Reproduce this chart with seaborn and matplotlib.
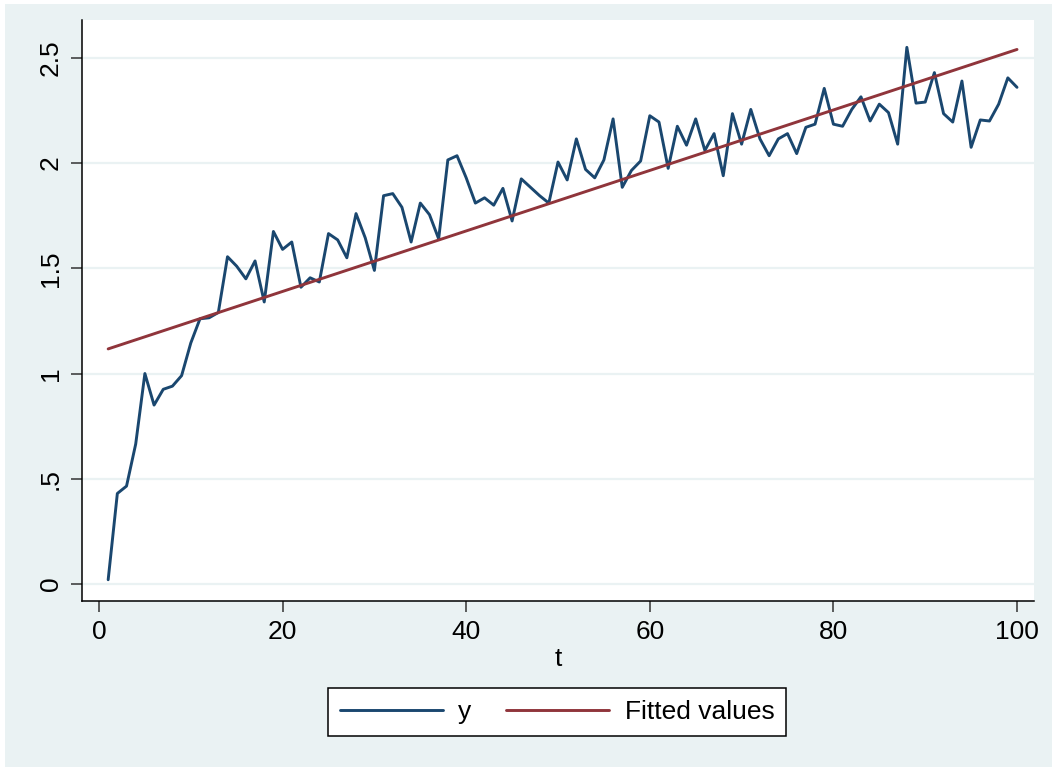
# Stata-style line plot of y against t with its fitted (linear) values
import matplotlib.pyplot as plt
import pandas as pd
import seaborn as sns
from matplotlib.patches import Rectangle

t = list(range(1, 101))
y = [0.02, 0.43, 0.465, 0.665, 1.0, 0.85, 0.925, 0.94, 0.99, 1.145,
     1.26, 1.265, 1.29, 1.555, 1.51, 1.45, 1.535, 1.34, 1.675, 1.59,
     1.625, 1.41, 1.455, 1.435, 1.665, 1.635, 1.55, 1.76, 1.645, 1.49,
     1.845, 1.855, 1.79, 1.625, 1.81, 1.755, 1.64, 2.015, 2.035, 1.93,
     1.81, 1.835, 1.80, 1.88, 1.725, 1.925, 1.885, 1.845, 1.81, 2.005,
     1.92, 2.115, 1.97, 1.93, 2.015, 2.21, 1.885, 1.965, 2.01, 2.225,
     2.195, 1.975, 2.175, 2.085, 2.21, 2.06, 2.14, 1.94, 2.235, 2.09,
     2.255, 2.115, 2.035, 2.115, 2.14, 2.045, 2.17, 2.185, 2.355, 2.185,
     2.175, 2.255, 2.315, 2.2, 2.28, 2.24, 2.09, 2.55, 2.285, 2.29,
     2.43, 2.235, 2.195, 2.39, 2.075, 2.205, 2.2, 2.28, 2.405, 2.36]

# fitted line (endpoints)
fit_t = [1, 100]
fit_y = [1.117, 2.54]

y_ticks = [0, 0.5, 1, 1.5, 2, 2.5]
y_tick_labels = ["0", ".5", "1", "1.5", "2", "2.5"]
x_ticks = [0, 20, 40, 60, 80, 100]

navy = "#1a476f"
maroon = "#90353b"
bg = "#eaf2f3"

df = pd.DataFrame({"t": t, "y": y})
fit_df = pd.DataFrame({"t": fit_t, "fit": fit_y})

sns.set_style("white")
plt.rcParams["font.family"] = ["Liberation Sans", "DejaVu Sans"]
plt.rcParams["text.color"] = "black"
plt.rcParams["xtick.color"] = "black"
plt.rcParams["ytick.color"] = "black"
plt.rcParams["axes.labelcolor"] = "black"

fig = plt.figure(figsize=(10.55, 7.71), dpi=100)
fig.patch.set_facecolor("white")
fig.patches.append(Rectangle((5 / 1055, 4 / 771), 1047 / 1055, 763 / 771,
                             transform=fig.transFigure, facecolor=bg,
                             edgecolor="none", zorder=-10))

ax = fig.add_axes([82 / 1055, 170 / 771, 952 / 1055, 581 / 771])
ax.set_facecolor("white")

for v in y_ticks:
    ax.axhline(v, color=bg, lw=1.6, zorder=0)

sns.lineplot(data=df, x="t", y="y", ax=ax, color=navy, lw=2.1, label="y")
sns.lineplot(data=fit_df, x="t", y="fit", ax=ax, color=maroon, lw=2.1,
             label="Fitted values")

ax.set_xlim(-1.85, 101.85)
ax.set_ylim(-0.081, 2.68)
ax.set_xticks(x_ticks)
ax.set_yticks(y_ticks)
ax.set_yticklabels(y_tick_labels, rotation=90, va="center")
ax.tick_params(axis="both", direction="out", length=8, width=1.1,
               colors="black", labelsize=19, pad=6, left=True, bottom=True)
ax.tick_params(axis="both", color="#333333")
ax.set_xlabel("t", fontsize=19, labelpad=2)
ax.set_ylabel("")

for side in ["top", "right"]:
    ax.spines[side].set_visible(False)
for side in ["left", "bottom"]:
    ax.spines[side].set_color("black")
    ax.spines[side].set_linewidth(1.1)

leg = ax.legend(loc="center", bbox_to_anchor=(557 / 1055, 59 / 771),
                bbox_transform=fig.transFigure, ncol=2, fontsize=19,
                frameon=True, fancybox=False, handlelength=3.9,
                handletextpad=0.6, columnspacing=1.3, borderpad=0.45)
leg.get_frame().set_edgecolor("black")
leg.get_frame().set_linewidth(1.1)
leg.get_frame().set_facecolor("white")
leg.get_frame().set_alpha(1)

fig.savefig("out.png", dpi=100)
